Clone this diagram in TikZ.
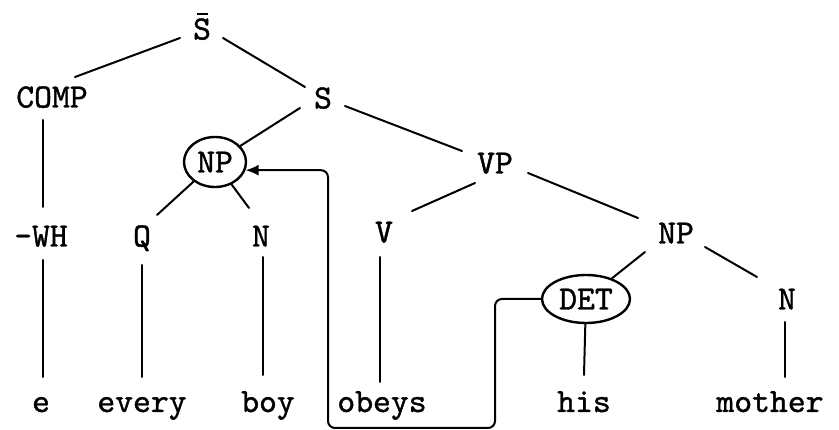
\documentclass[tikz,border=0pt]{standalone}
\usepackage{fontspec}
\newfontfamily\twfont{lmmono10-regular.otf}[FakeBold=1.2]
\usetikzlibrary{calc,arrows.meta,shapes.geometric}
\begin{document}
\begin{tikzpicture}[x=1pt,y=-1pt,
  lab/.style={font=\twfont\fontsize{34}{34}\selectfont, inner sep=0pt, text height=21pt, text depth=0pt},
  wrd/.style={font=\twfont\fontsize{34}{34}\selectfont, inner sep=0pt, anchor=base},
  oval/.style={lab, draw, ellipse, line width=2.4pt},
  edge/.style={line width=2pt, line cap=round}]
\useasboundingbox (0,0) rectangle (839,430);
% labels
\node[lab] (sbar) at (202,29) {\ooalign{S\cr\hidewidth\raisebox{24pt}{\rule{11pt}{2pt}}\hidewidth\cr}};
\node[lab] (comp) at (52,97) {COMP};
\node[lab] (s) at (323,98) {S};
\node[oval, minimum width=62pt, minimum height=50pt] (np1) at (215,162) {NP};
\node[lab] (vp) at (495,163) {VP};
\node[lab] (wh) at (41,236) {-WH};
\node[lab] (q) at (142,236) {Q};
\node[lab] (n1) at (261,236) {N};
\node[lab] (v) at (384,232) {V};
\node[lab] (np2) at (676,233) {NP};
\node[oval, minimum width=88pt, minimum height=48pt] (det) at (586,299) {DET};
\node[lab] (n2) at (787,299) {N};
% words
\node[wrd] (e) at (41,412) {e};
\node[wrd] (every) at (142,412) {every};
\node[wrd] (boy) at (268,412) {boy};
\node[wrd] (obeys) at (382,412) {obeys};
\node[wrd] (his) at (584,412) {his};
\node[wrd] (mother) at (770,412) {mother};
% tree edges
\draw[edge] ($(sbar)+(-22,9)$) -- ($(comp)+(23,-20)$);
\draw[edge] ($(sbar)+(21,9)$) -- ($(s)+(-18,-11)$);
\draw[edge] ($(comp)+(-9,23)$) -- ($(wh)+(2,-29)$);
\draw[edge] ($(s)+(-23,10)$) -- (np1);
\draw[edge] ($(s)+(22,8)$) -- ($(vp)+(-33,-12)$);
\draw[edge] (np1) -- ($(q)+(15,-21)$);
\draw[edge] (np1) -- ($(n1)+(-12,-28)$);
\draw[edge] ($(vp)+(-20,20)$) -- ($(v)+(28,-21)$);
\draw[edge] ($(vp)+(33,10)$) -- ($(np2)+(-38,-15)$);
\draw[edge] ($(np2)+(-31,19)$) -- (det);
\draw[edge] ($(np2)+(29,14)$) -- ($(n2)+(-30,-22)$);
\draw[edge] ($(wh)+(2,24)$) -- ($(e.base)+(2,-35)$);
\draw[edge] ($(q)+(0,29)$) -- ($(every.base)+(0,-35)$);
\draw[edge] ($(n1)+(2,21)$) -- ($(boy.base)+(-5,-37)$);
\draw[edge] ($(v)+(-4,25)$) -- ($(obeys.base)+(-2,-30)$);
\draw[edge] (det) -- ($(his.base)+(0,-37)$);
\draw[edge] ($(n2)+(-2,23)$) -- ($(mother.base)+(15,-35)$);
% binding connector
\coordinate (k1) at (495,428);
\coordinate (k2) at (328,428);
\draw[edge, rounded corners=7pt, -{Latex[length=13pt,width=11pt]}] (det.west) -| (k1) -- (k2) |- (np1.-15);
\end{tikzpicture}
\end{document}
